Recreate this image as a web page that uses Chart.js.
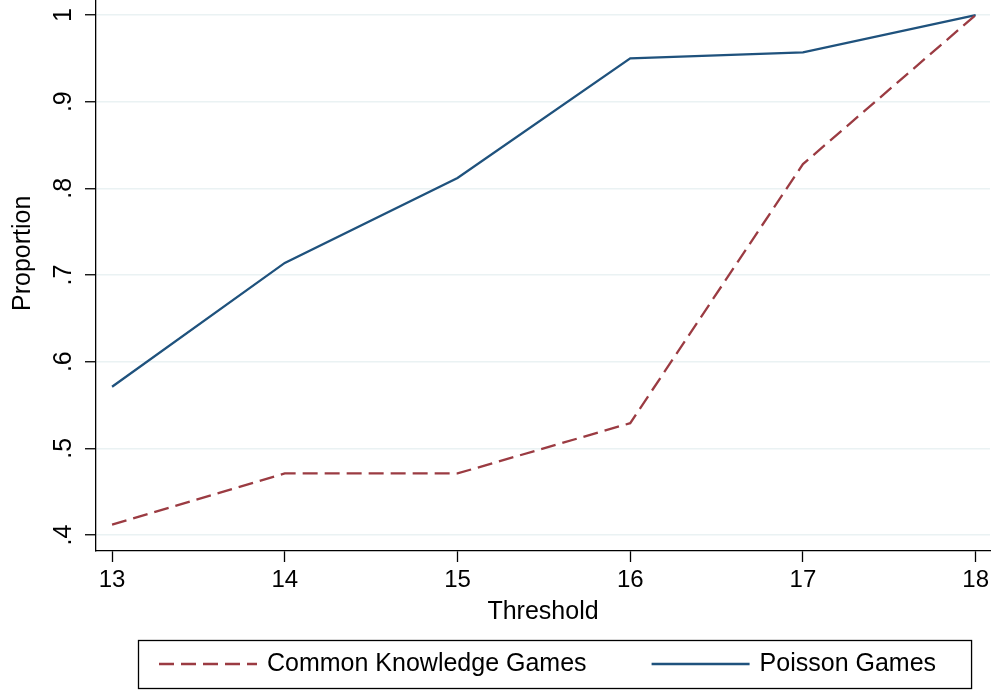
<!DOCTYPE html>
<html>
<head>
<meta charset="utf-8">
<title>Proportion by threshold</title>
<script src="https://cdn.jsdelivr.net/npm/chart.js@4.4.1/dist/chart.umd.min.js"></script>
<style>
  html, body { margin: 0; padding: 0; background: #fff; }
  #wrap { width: 992px; height: 690px; }
</style>
</head>
<body>
<div id="wrap"><canvas id="thresholdChart"></canvas></div>
<script>
// --- DATA ---
const thresholds = [13, 14, 15, 16, 17, 18];
const commonKnowledge = [0.412, 0.471, 0.471, 0.529, 0.828, 1.0];
const poisson = [0.571, 0.714, 0.812, 0.950, 0.957, 1.0];
const yTicks = [0.4, 0.5, 0.6, 0.7, 0.8, 0.9, 1];
const yTickLabels = ['.4', '.5', '.6', '.7', '.8', '.9', '1'];
const seriesNames = ['Common Knowledge Games', 'Poisson Games'];
const xTitle = 'Threshold';
const yTitle = 'Proportion';

const FONT = "'Liberation Sans', Arial, Helvetica, sans-serif";
Chart.defaults.font.family = FONT;
Chart.defaults.color = '#000';

// y title sits a bit above the middle of the axis, like the Stata original
const yTitlePlugin = {
  id: 'yTitle',
  afterDraw(chart) {
    const { ctx } = chart;
    const yScale = chart.scales.y;
    ctx.save();
    ctx.font = `25px ${FONT}`;
    ctx.fillStyle = '#000';
    ctx.textAlign = 'center';
    ctx.textBaseline = 'middle';
    ctx.translate(23, yScale.getPixelForValue(0.725));
    ctx.rotate(-Math.PI / 2);
    ctx.fillText(yTitle, 0, 0);
    ctx.restore();
  }
};

// framed legend below the axis title
const boxedLegend = {
  id: 'boxedLegend',
  afterDraw(chart) {
    const { ctx, chartArea } = chart;
    const sets = chart.data.datasets;
    const lineLen = 98, textGap = 10, itemGap = 65, padL = 21, padR = 35;
    ctx.save();
    ctx.font = `25px ${FONT}`;
    const widths = sets.map((ds) => ctx.measureText(ds.label).width);
    let total = padL + padR;
    widths.forEach((w, i) => { total += lineLen + textGap + w + (i ? itemGap : 0); });
    const center = (chartArea.left + chartArea.right) / 2 + 12;
    const left = Math.round(center - total / 2);
    const top = chart.height - 50;
    const boxH = 48;
    const cy = top + boxH / 2;

    ctx.strokeStyle = '#000';
    ctx.lineWidth = 1.3;
    ctx.strokeRect(left + 0.5, top + 0.5, total, boxH);

    let x = left + padL;
    sets.forEach((ds, i) => {
      ctx.beginPath();
      ctx.strokeStyle = ds.borderColor;
      ctx.lineWidth = ds.borderWidth;
      ctx.setLineDash(ds.borderDash || []);
      ctx.moveTo(x, cy);
      ctx.lineTo(x + lineLen, cy);
      ctx.stroke();
      ctx.setLineDash([]);
      ctx.fillStyle = '#000';
      ctx.textAlign = 'left';
      ctx.textBaseline = 'middle';
      ctx.fillText(ds.label, x + lineLen + textGap, cy);
      x += lineLen + textGap + widths[i] + itemGap;
    });
    ctx.restore();
  }
};

const ctx = document.getElementById('thresholdChart').getContext('2d');
new Chart(ctx, {
  type: 'line',
  data: {
    datasets: [
      {
        label: seriesNames[0],
        data: thresholds.map((x, i) => ({ x, y: commonKnowledge[i] })),
        borderColor: '#9b3b42',
        borderWidth: 2.3,
        borderDash: [15, 7],
        pointRadius: 0,
        tension: 0,
        fill: false
      },
      {
        label: seriesNames[1],
        data: thresholds.map((x, i) => ({ x, y: poisson[i] })),
        borderColor: '#1f527d',
        borderWidth: 2.3,
        pointRadius: 0,
        tension: 0,
        fill: false
      }
    ]
  },
  options: {
    responsive: true,
    maintainAspectRatio: false,
    animation: false,
    layout: { padding: { top: 1, right: 2, bottom: 59, left: 0 } },
    scales: {
      x: {
        type: 'linear',
        min: 12.907,
        max: 18.083,
        afterBuildTicks: (scale) => { scale.ticks = thresholds.map((v) => ({ value: v })); },
        afterFit: (scale) => {
          scale.height = 80;
          scale.paddingLeft = 0;
          scale.paddingRight = 0;
        },
        grid: { drawOnChartArea: false, drawTicks: true, tickLength: 11, tickColor: '#000', tickWidth: 1.3 },
        border: { color: '#000', width: 1.3 },
        ticks: { color: '#000', font: { size: 24 }, padding: 4, maxRotation: 0, autoSkip: false, callback: (v) => String(v) },
        title: { display: true, text: xTitle, color: '#000', font: { size: 25 }, padding: { top: 4, bottom: 4 } }
      },
      y: {
        min: 0.3815,
        max: 1.0162,
        afterBuildTicks: (scale) => { scale.ticks = yTicks.map((v) => ({ value: v })); },
        afterFit: (scale) => {
          scale.width = 96;
          scale.paddingTop = 0;
          scale.paddingBottom = 0;
        },
        grid: { color: '#eaf2f3', lineWidth: 1.5, drawTicks: true, tickLength: 11, tickColor: '#000', tickWidth: 1.3 },
        border: { color: '#000', width: 1.3 },
        ticks: {
          color: '#000',
          font: { size: 25 },
          padding: 10,
          minRotation: 90,
          maxRotation: 90,
          crossAlign: 'center',
          autoSkip: false,
          callback: (v) => yTickLabels[yTicks.findIndex((t) => Math.abs(t - v) < 1e-9)]
        },
        title: { display: false }
      }
    },
    plugins: {
      legend: { display: false },
      tooltip: { enabled: false }
    }
  },
  plugins: [yTitlePlugin, boxedLegend]
});
</script>
</body>
</html>
